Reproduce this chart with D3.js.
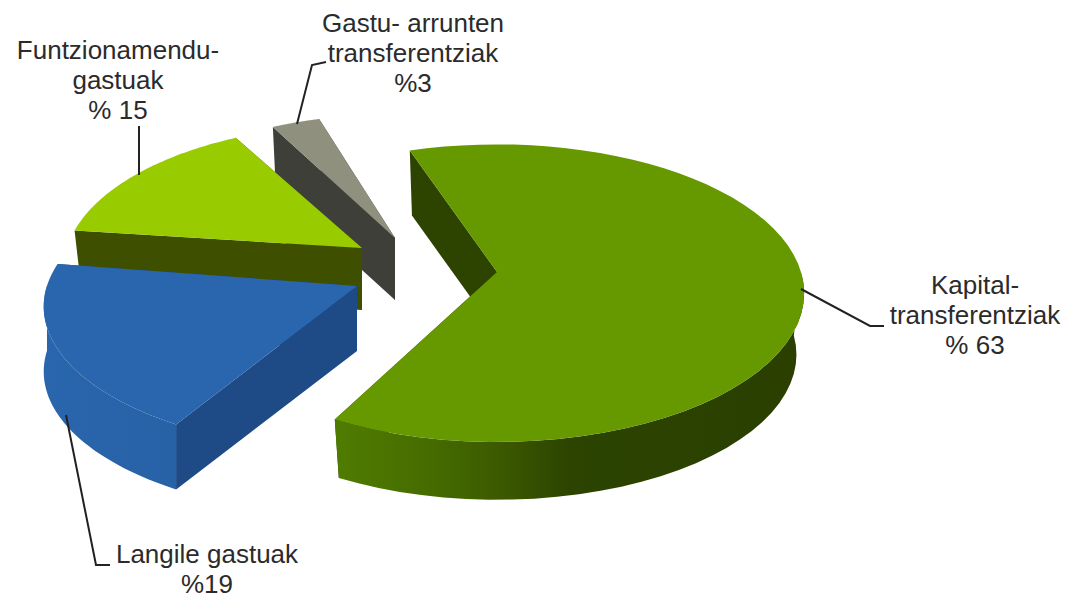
<!DOCTYPE html>
<html>
<head>
<meta charset="utf-8">
<script src="https://cdn.jsdelivr.net/npm/d3@7"></script>
<style>
    html, body { margin: 0; background: #fff; }
    text { font-family: "Liberation Sans", Arial, sans-serif; font-size: 26px; fill: #2b2b2b; text-anchor: middle; }
</style>
</head>
<body>
<svg id="chart" width="1066" height="599"></svg>
<script>
const names = ["Kapital", "Langile", "Funtzionamendu", "Gastu"];
const values = [63, 19, 15, 3];
const labels = [
    ["Kapital-", "transferentziak", "% 63"],
    ["Langile gastuak", "%19"],
    ["Funtzionamendu-", "gastuak", "% 15"],
    ["Gastu- arrunten", "transferentziak", "%3"]
];
const topColors = ["#669900", "#2a66ad", "#99cc00", "#90907f"];
const faceColors = ["#2c4400", "#1e4a85", "#3f4f00", "#3f3f3a"];
const wallStops = [
    [[0, "#4f7c00"], [0.2, "#466c00"], [0.35, "#3c5a00"], [0.5, "#2c4400"], [1, "#2a3f00"]],
    [[0, "#2a66ad"], [1, "#245a9c"]],
    [[0, "#3f4f00"], [1, "#3f4f00"]],
    [[0, "#3f3f3a"], [1, "#3f3f3a"]]
];

// pie centre on screen, radii and the explode shift of each slice
const centre = [497, 272];
const rx = 304, ry = 145.8, persp = 0.1425;
const shifts = [[0, 0], [-140, 14], [-135, -24], [-102, -34]];
const sizesX = [1, 1.02, 0.97, 0.97];
const sizesY = [1, 0.97, 0.97, 0.97];
const depths = [62, 65, 62, 62];
const bottomScales = [0.975, 1, 0.975, 0.975];
// exploded slices look slightly turned in the 3d view (degrees)
const turns = [0, 3, 1, 2];

const svg = d3.select("#chart");
const defs = svg.append("defs");

const pie = d3.pie().sort(null)
    .startAngle(-19 * Math.PI / 180)
    .endAngle(341 * Math.PI / 180);
const arcs = pie(values);

function project(angle, radius, i, low) {
    const X = Math.sin(angle) * radius;
    const Y = -Math.cos(angle) * radius;
    const s = 1 / (1 - persp * Y) * (low ? bottomScales[i] : 1);
    return [
        centre[0] + shifts[i][0] + X * rx * sizesX[i] * s,
        centre[1] + shifts[i][1] + Y * ry * sizesY[i] * s + (low ? depths[i] : 0)
    ];
}

function arcAngles(d, i) {
    const turn = turns[i] * Math.PI / 180;
    return d3.range(0, 61).map((k) => d.startAngle + turn + (d.endAngle - d.startAngle) * k / 60);
}

const line = d3.line();

// order back to front, the same as the overlap in the picture
[3, 2, 1, 0].forEach((i) => {
    const d = arcs[i];
    const g = svg.append("g").attr("class", names[i]);
    const apex = project(0, 0, i, false);
    const apexLow = project(0, 0, i, true);
    const angles = arcAngles(d, i);
    const top = angles.map((a) => project(a, 1, i, false));
    const low = angles.map((a) => project(a, 1, i, true));

    // only the near half of the rim can be seen
    const rimAngles = angles.filter((a) => Math.cos(a) <= 0.02);
    const rimTop = rimAngles.map((a) => project(a, 1, i, false));
    const rimLow = rimAngles.map((a) => project(a, 1, i, true));

    const wallId = `wall-${i}`;
    const xs = d3.extent(top.concat(low), (p) => p[0]);
    const grad = defs.append("linearGradient")
        .attr("id", wallId)
        .attr("gradientUnits", "userSpaceOnUse")
        .attr("x1", xs[0])
        .attr("x2", i === 0 ? xs[1] : apex[0])
        .attr("y1", 0).attr("y2", 0);
    grad.selectAll("stop").data(wallStops[i]).enter().append("stop")
        .attr("offset", (s) => s[0])
        .attr("stop-color", (s) => s[1]);

    // the two radial faces
    [[top[0], low[0]], [top[60], low[60]]].forEach(([a, b]) => {
        g.append("path")
            .attr("d", line([apex, a, b, apexLow]) + "Z")
            .attr("fill", faceColors[i]);
    });

    // outer rim
    if (rimTop.length > 1) {
        g.append("path")
            .attr("d", line(rimTop.concat(rimLow.slice().reverse())) + "Z")
            .attr("fill", `url(#${wallId})`);
    }

    // top surface
    g.append("path")
        .attr("d", line([apex].concat(top)) + "Z")
        .attr("fill", topColors[i]);
});

// leader lines
const leaders = [
    [[801, 289], [870, 326], [884, 326]],
    [[66, 415], [96, 565], [110, 565]],
    [[139, 175], [139, 126]],
    [[297, 124], [312, 65], [326, 62]]
];
svg.append("g").selectAll("path").data(leaders).enter().append("path")
    .attr("d", (d) => line(d))
    .attr("fill", "none")
    .attr("stroke", "#222")
    .attr("stroke-width", 2);

// labels
const labelX = [975, 207, 118, 413];
const labelY = [294, 563, 59, 32];
const lineGap = 30;
labels.forEach((rows, i) => {
    svg.append("g").selectAll("text").data(rows).enter().append("text")
        .attr("x", labelX[i])
        .attr("y", (r, k) => labelY[i] + k * lineGap)
        .text((r) => r);
});
</script>
</body>
</html>
